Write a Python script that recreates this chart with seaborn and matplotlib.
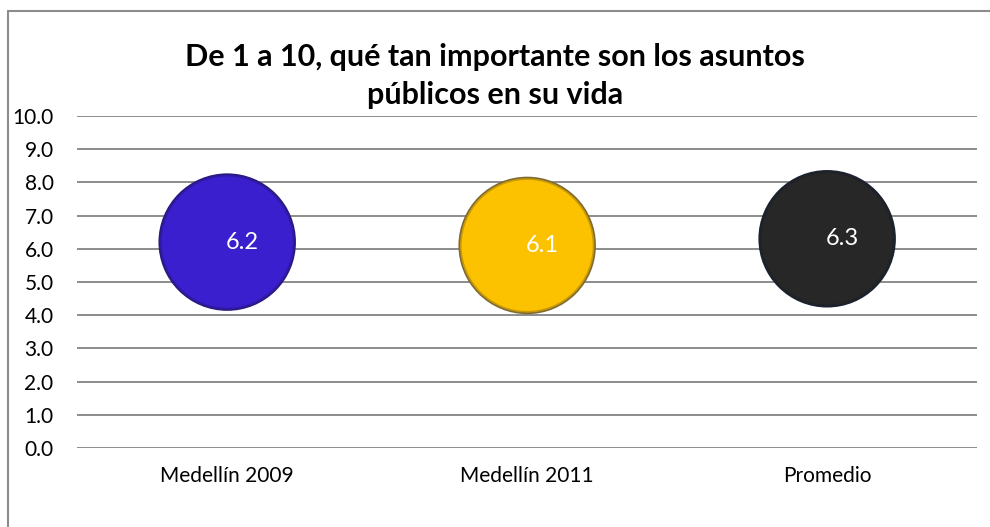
import matplotlib
matplotlib.use("Agg")
import matplotlib.pyplot as plt
import seaborn as sns
import pandas as pd
from matplotlib.lines import Line2D

categories = ["Medellín 2009", "Medellín 2011", "Promedio"]
values = [6.2, 6.1, 6.3]
value_labels = ["6.2", "6.1", "6.3"]
fill_colors = ["#3A1FCF", "#FCC200", "#272727"]
mid_colors = ["#3019A8", "#C99A08", "#202226"]
rim_colors = ["#2A1A80", "#7E6A30", "#1A2230"]
y_ticks = [0, 1, 2, 3, 4, 5, 6, 7, 8, 9, 10]
title = "De 1 a 10, qué tan importante son los asuntos\npúblicos en su vida"

sns.set_theme(style="white")
plt.rcParams["font.family"] = ["Lato", "DejaVu Sans"]

df = pd.DataFrame({"cat": categories, "val": values})

fig = plt.figure(figsize=(9.9, 5.27), dpi=100)
ax = fig.add_axes([0.078, 0.150, 0.909, 0.630])

# bevelled bubbles: dark rim, softer inner ring, flat face
for size, pal, z in [(9800, rim_colors, 3), (9350, mid_colors, 4), (8900, fill_colors, 5)]:
    sns.scatterplot(data=df, x="cat", y="val", hue="cat", palette=pal,
                    s=size, linewidth=0, legend=False, ax=ax, zorder=z)

for i, (v, lab) in enumerate(zip(values, value_labels)):
    ax.annotate(lab, (i, v), xytext=(11, 0), textcoords="offset points",
                ha="center", va="center", color="white", fontsize=17, zorder=6)

ax.set_xlim(-0.5, 2.5)
ax.set_ylim(0, 10)
ax.set_yticks(y_ticks)
ax.set_yticklabels([f"{t:.1f}" for t in y_ticks])
ax.yaxis.grid(True, color="#8C8C8C", linewidth=1.4)
ax.set_axisbelow(True)
for s in ax.spines.values():
    s.set_visible(False)
ax.tick_params(axis="y", length=0, pad=17, labelsize=15, labelcolor="black")
ax.tick_params(axis="x", length=0, pad=13, labelsize=15, labelcolor="black")
ax.set_xlabel("")
ax.set_ylabel("")

fig.text(0.5, 0.856, title, ha="center", va="center", fontsize=22,
         fontweight="bold", color="black", linespacing=1.45)

# chart frame
fig.add_artist(Line2D([8 / 990, 8 / 990], [0, 1 - 11 / 527], transform=fig.transFigure,
                      color="#8C8C8C", linewidth=1.5))
fig.add_artist(Line2D([8 / 990, 1], [1 - 11 / 527, 1 - 11 / 527], transform=fig.transFigure,
                      color="#8C8C8C", linewidth=1.5))

fig.savefig("out.png", dpi=100)
